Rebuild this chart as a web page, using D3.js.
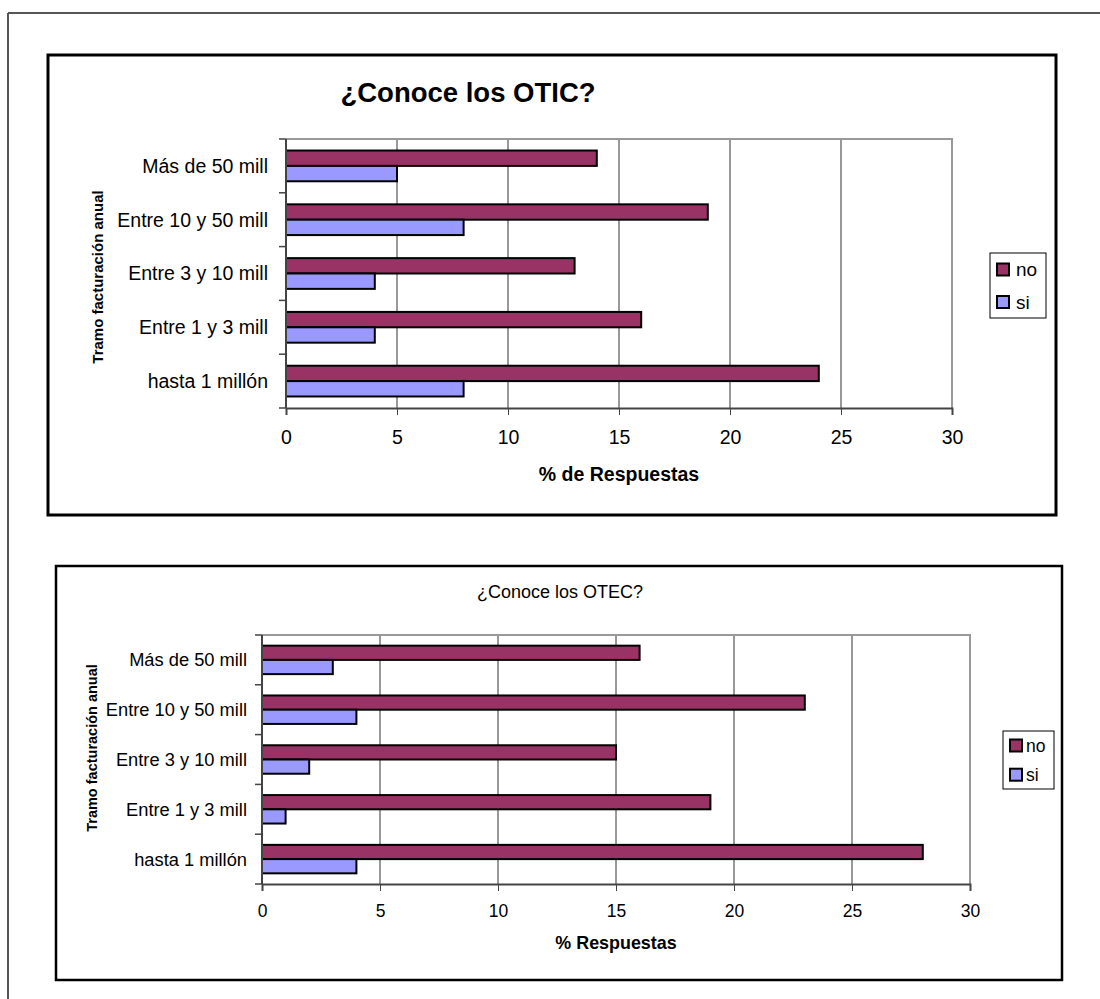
<!DOCTYPE html>
<html>
<head>
<meta charset="utf-8">
<script src="https://cdn.jsdelivr.net/npm/d3@7"></script>
<style>
  html, body { margin: 0; padding: 0; background: #fff; }
  svg { display: block; font-family: "Liberation Sans", Arial, sans-serif; }
</style>
</head>
<body>
<svg id="page" width="1100" height="999"></svg>
<script>
// Revenue brackets (top to bottom as displayed)
const categories = ["Más de 50 mill", "Entre 10 y 50 mill", "Entre 3 y 10 mill", "Entre 1 y 3 mill", "hasta 1 millón"];
const seriesNames = ["no", "si"];
const seriesColors = ["#993366", "#9999FF"];
const xTicks = [0, 5, 10, 15, 20, 25, 30];

// ¿Conoce los OTIC?
const oticNo = [14, 19, 13, 16, 24];
const oticSi = [5, 8, 4, 4, 8];

// ¿Conoce los OTEC?
const otecNo = [16, 23, 15, 19, 28];
const otecSi = [3, 4, 2, 1, 4];

const svg = d3.select("#page");

// Page edges
svg.append("line").attr("x1", 8).attr("y1", 13).attr("x2", 1100).attr("y2", 13)
  .attr("stroke", "#555").attr("stroke-width", 2);
svg.append("line").attr("x1", 8).attr("y1", 13).attr("x2", 8).attr("y2", 999)
  .attr("stroke", "#555").attr("stroke-width", 2);

function drawChart(cfg) {
  const g = svg.append("g");

  // Chart frame
  g.append("rect")
    .attr("x", cfg.box[0]).attr("y", cfg.box[1])
    .attr("width", cfg.box[2]).attr("height", cfg.box[3])
    .attr("fill", "#fff").attr("stroke", "#000").attr("stroke-width", cfg.boxStroke);

  const x = d3.scaleLinear().domain([0, 30]).range([cfg.plot.left, cfg.plot.right]);
  const y = d3.scaleBand().domain(categories).range([cfg.plot.top, cfg.plot.bottom]);
  const band = y.bandwidth();
  const barH = band / 3.5;           // gap width 150%
  const groupOff = (band - 2 * barH) / 2;

  // Vertical gridlines
  g.append("g").selectAll("line")
    .data(xTicks.filter(t => t > 0 && t < 30))
    .join("line")
    .attr("x1", d => x(d)).attr("x2", d => x(d))
    .attr("y1", cfg.plot.top).attr("y2", cfg.plot.bottom)
    .attr("stroke", "#333").attr("stroke-width", 1);

  // Plot frame: top and right in grey
  g.append("path")
    .attr("d", `M${cfg.plot.left},${cfg.plot.top}H${cfg.plot.right}V${cfg.plot.bottom}`)
    .attr("fill", "none").attr("stroke", "#999").attr("stroke-width", 2);

  // Bars
  const values = [cfg.no, cfg.si];
  values.forEach((vals, si) => {
    g.append("g").selectAll("rect")
      .data(categories.map((c, i) => ({ c, v: vals[i] })))
      .join("rect")
      .attr("x", x(0))
      .attr("y", d => y(d.c) + groupOff + si * barH)
      .attr("width", d => x(d.v) - x(0))
      .attr("height", barH)
      .attr("fill", seriesColors[si])
      .attr("stroke", "#000").attr("stroke-width", 2);
  });

  // X axis
  const xAxis = g.append("g")
    .attr("transform", `translate(0,${cfg.plot.bottom})`)
    .call(d3.axisBottom(x).tickValues(xTicks).tickSize(7).tickPadding(cfg.xTickPad));
  xAxis.select(".domain").attr("stroke", "#444").attr("stroke-width", 2);
  xAxis.selectAll(".tick line").attr("stroke", "#444");
  xAxis.selectAll("text").attr("font-size", cfg.tickFont).attr("fill", "#000")
    .style("font-family", "Liberation Sans, Arial, sans-serif");

  // Y axis: ticks between categories
  const yEdges = d3.range(categories.length + 1).map(i => cfg.plot.top + i * band);
  g.append("line")
    .attr("x1", cfg.plot.left).attr("x2", cfg.plot.left)
    .attr("y1", cfg.plot.top).attr("y2", cfg.plot.bottom)
    .attr("stroke", "#444").attr("stroke-width", 2);
  g.append("g").selectAll("line").data(yEdges).join("line")
    .attr("x1", cfg.plot.left - 7).attr("x2", cfg.plot.left)
    .attr("y1", d => d).attr("y2", d => d)
    .attr("stroke", "#444").attr("stroke-width", 1.5);
  g.append("g").selectAll("text").data(categories).join("text")
    .attr("x", cfg.plot.left - cfg.catPad)
    .attr("y", d => y(d) + band / 2)
    .attr("dy", "0.35em")
    .attr("text-anchor", "end")
    .attr("font-size", cfg.catFont)
    .text(d => d);

  // Titles
  g.append("text")
    .attr("x", cfg.title.x).attr("y", cfg.title.y)
    .attr("text-anchor", "middle")
    .attr("font-size", cfg.title.size)
    .attr("font-weight", cfg.title.weight)
    .text(cfg.title.text);
  g.append("text")
    .attr("x", cfg.xTitle.x).attr("y", cfg.xTitle.y)
    .attr("text-anchor", "middle")
    .attr("font-size", cfg.xTitle.size)
    .attr("font-weight", "bold")
    .text(cfg.xTitle.text);
  g.append("text")
    .attr("transform", `translate(${cfg.yTitle.x},${cfg.yTitle.y}) rotate(-90)`)
    .attr("text-anchor", "middle")
    .attr("font-size", cfg.yTitle.size)
    .attr("font-weight", "bold")
    .text("Tramo facturación anual");

  // Legend
  const L = cfg.legend;
  const lg = g.append("g");
  lg.append("rect").attr("x", L.x).attr("y", L.y).attr("width", L.w).attr("height", L.h)
    .attr("fill", "#fff").attr("stroke", "#000").attr("stroke-width", 1);
  seriesNames.forEach((name, i) => {
    const cy = L.y + L.first + i * L.step;
    lg.append("rect").attr("x", L.x + 7).attr("y", cy - 6).attr("width", 12).attr("height", 12)
      .attr("fill", seriesColors[i]).attr("stroke", "#000").attr("stroke-width", 2);
    lg.append("text").attr("x", L.x + L.textOff).attr("y", cy).attr("dy", "0.35em")
      .attr("font-size", L.font).text(name);
  });
}

drawChart({
  box: [48, 55, 1008, 460],
  boxStroke: 3,
  plot: { left: 286, right: 952, top: 139, bottom: 408 },
  no: oticNo, si: oticSi,
  tickFont: 19.5, xTickPad: 15, catFont: 19.5, catPad: 18,
  title: { text: "¿Conoce los OTIC?", x: 468, y: 102, size: 27.5, weight: "bold" },
  xTitle: { text: "% de Respuestas", x: 619, y: 481, size: 19.5 },
  yTitle: { x: 103, y: 277, size: 15 },
  legend: { x: 990, y: 253, w: 56, h: 65, first: 16.5, step: 32.5, font: 19, textOff: 26 }
});

drawChart({
  box: [56, 566, 1006, 414],
  boxStroke: 2.5,
  plot: { left: 262, right: 970, top: 635, bottom: 884 },
  no: otecNo, si: otecSi,
  tickFont: 17.5, xTickPad: 14, catFont: 18.3, catPad: 15,
  title: { text: "¿Conoce los OTEC?", x: 560, y: 598, size: 18, weight: "normal" },
  xTitle: { text: "% Respuestas", x: 616, y: 949, size: 17.9 },
  yTitle: { x: 97, y: 748, size: 14.5 },
  legend: { x: 1003, y: 731, w: 51, h: 58, first: 14.5, step: 29.2, font: 17.5, textOff: 23 }
});
</script>
</body>
</html>
